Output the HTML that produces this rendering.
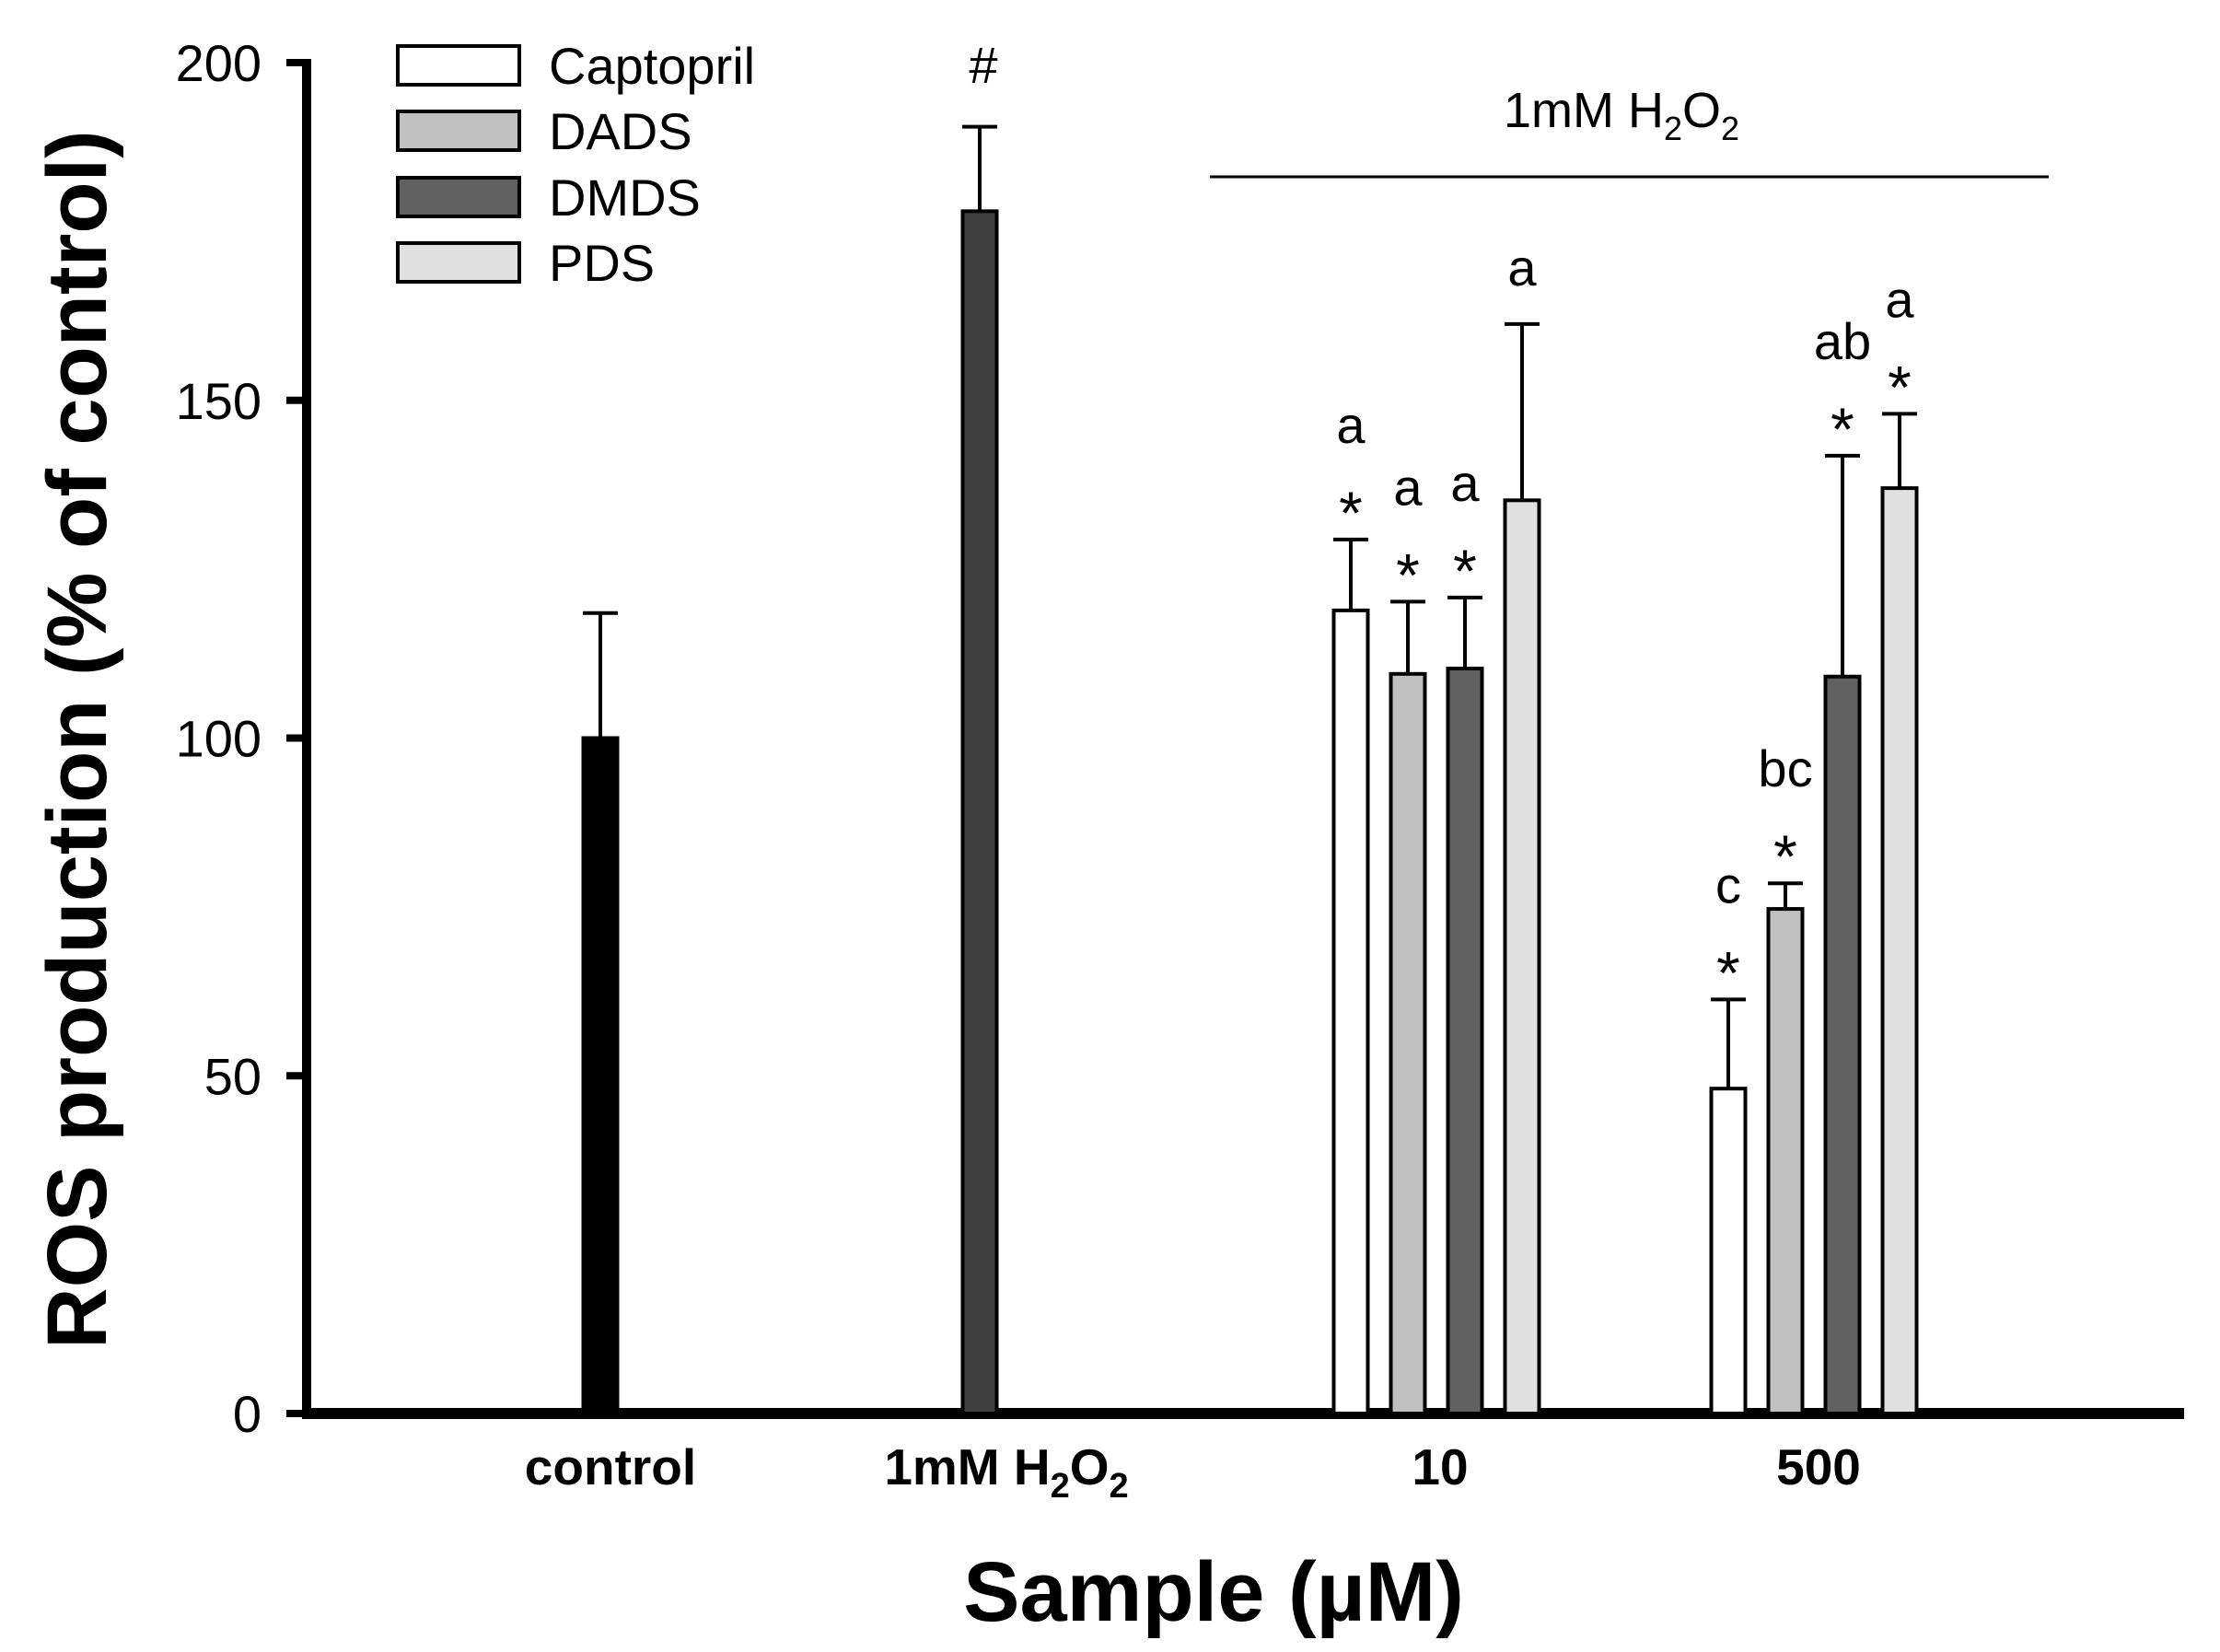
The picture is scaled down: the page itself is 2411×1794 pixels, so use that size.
<!DOCTYPE html>
<html><head><meta charset="utf-8"><style>
html,body{margin:0;padding:0;background:#fff;}
svg{display:block;font-family:"Liberation Sans",Arial,sans-serif;}
</style></head><body>
<svg id="chart" width="2411" height="1794" viewBox="0 0 2411 1794" xmlns="http://www.w3.org/2000/svg">
<g id="plot"></g>
</svg>
<script>
const tickValues = [0, 50, 100, 150, 200];
const tickLabels = ["0", "50", "100", "150", "200"];
const singleNames = ["control", "h2o2"];
const singleValues = [100, 178];
const singleErrors = [118.5, 190.5];
const singleFills = ["#000000", "#404040"];
const seriesNames = ["Captopril", "DADS", "DMDS", "PDS"];
const seriesFills = ["#ffffff", "#c0c0c0", "#606060", "#e0e0e0"];
const groupNames = ["10", "500"];
const groupValues = [[118.9, 109.5, 110.3, 135.2], [48.1, 74.7, 109.1, 137.0]];
const groupErrors = [[129.4, 120.2, 120.8, 161.3], [61.3, 78.5, 141.8, 148.0]];
const groupLetters = [["a", "a", "a", "a"], ["c", "bc", "ab", "a"]];
const groupStars = [[true, true, true, false], [true, true, true, true]];

const NS = "http://www.w3.org/2000/svg";
const g = document.getElementById("plot");
const Y0 = 1535, PXU = 7.335;
function yS(v){ return Y0 - v * PXU; }
function mk(tag, attrs, parent){ const e = document.createElementNS(NS, tag); for (const k in attrs) e.setAttribute(k, attrs[k]); (parent||g).appendChild(e); return e; }

let yAxis = mk("line", {x1:333, y1:yS(200)-4, x2:333, y2:1541, stroke:"#000", "stroke-width":10});


let xAxis = mk("line", {x1:328, y1:1535, x2:2372, y2:1535, stroke:"#000", "stroke-width":12});


tickValues.forEach((v, i) => {
  let t = mk("line", {x1:311, y1:yS(v), x2:335, y2:yS(v), stroke:"#000", "stroke-width":8});
  
  
  let l = mk("text", {x:284, y:yS(v)+20, "text-anchor":"end", "font-size":56});
  l.textContent = tickLabels[i];
  
  
});

const BW = 37;
function bar(cx, v, e, fill, name){
  let top = yS(v);
  let el = mk("line", {x1:cx, y1:yS(e), x2:cx, y2:top, stroke:"#000", "stroke-width":4});
  
  
  let cap = mk("line", {x1:cx-19, y1:yS(e), x2:cx+19, y2:yS(e), stroke:"#000", "stroke-width":4});
  
  
  let r = mk("rect", {x:cx-BW/2, y:top, width:BW, height:Y0-top, fill:fill, stroke:"#000", "stroke-width":4});
  
  
}
const singleCenters = [652, 1064];
singleValues.forEach((v, i) => bar(singleCenters[i], v, singleErrors[i], singleFills[i], singleNames[i]));

const groupCenters = [1560, 1970];
const step = 62;
groupValues.forEach((vals, gi) => {
  vals.forEach((v, si) => {
    const cx = groupCenters[gi] + (si - 1.5) * step;
    const nm = seriesNames[si].toLowerCase() + '-' + groupNames[gi];
    bar(cx, v, groupErrors[gi][si], seriesFills[si], nm);
    let ey = yS(groupErrors[gi][si]);
    let ly;
    if (groupStars[gi][si]) {
      let s = mk("text", {x:cx, y:ey-6, "text-anchor":"middle", "font-size":66});
      s.textContent = "*";
      
      
      ly = ey - 105;
    } else { ly = ey - 42; }
    let t = mk("text", {x:cx, y:ly, "text-anchor":"middle", "font-size":56});
    t.textContent = groupLetters[gi][si];
    
    
  });
});

let hs = mk("text", {x:1068, y:90, "text-anchor":"middle", "font-size":56});
hs.textContent = "#";



let br = mk("line", {x1:1314, y1:192, x2:2225, y2:192, stroke:"#000", "stroke-width":3});


let bt = mk("text", {x:1761, y:138, "text-anchor":"middle", "font-size":54});
bt.innerHTML = '1mM H<tspan font-size="36" dy="14">2</tspan><tspan dy="-14">O</tspan><tspan font-size="36" dy="14">2</tspan>';



const legY = [71, 142, 214, 285];
seriesNames.forEach((n, i) => {
  let r = mk("rect", {x:432, y:legY[i]-21, width:132, height:42, fill:seriesFills[i], stroke:"#000", "stroke-width":4});
  
  
  let t = mk("text", {x:596, y:legY[i]+20, "font-size":56});
  t.textContent = n;
  
  
});

const catX = [663, 1093, 1564, 1975];
const catHTML = ["control", '1mM H<tspan font-size="38" dy="14">2</tspan><tspan dy="-14">O</tspan><tspan font-size="38" dy="14">2</tspan>', "10", "500"];
catHTML.forEach((h, i) => {
  let t = mk("text", {x:catX[i], y:1612, "text-anchor":"middle", "font-size":55, "font-weight":"bold"});
  t.innerHTML = h;
  
  
});

let xt = mk("text", {x:1318, y:1760, "text-anchor":"middle", "font-size":92, "font-weight":"bold"});
xt.textContent = "Sample (\u00B5M)";


let yt = mk("text", {x:0, y:0, "text-anchor":"middle", "font-size":92, "font-weight":"bold", transform:"translate(115,803) rotate(-90)"});
yt.textContent = "ROS production (% of control)";


</script>
</body></html>
